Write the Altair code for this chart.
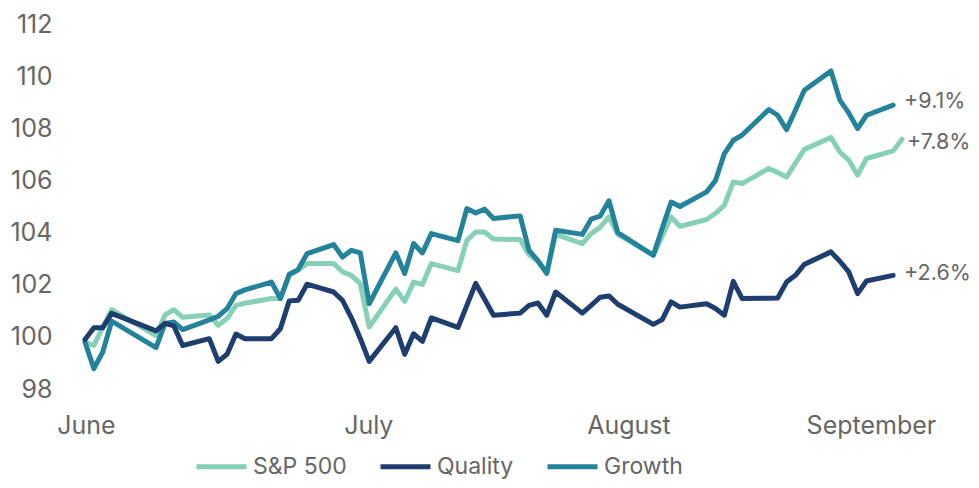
import altair as alt
import pandas as pd

# Day offsets (calendar days from the first observation) of each data point
days = [0, 1, 2, 3, 8, 9, 10, 11, 14, 15, 16, 17, 18, 21, 22, 23, 24, 25,
        28, 29, 30, 31, 32, 35, 36, 37, 38, 39, 42, 43, 44, 45, 46,
        49, 50, 51, 52, 53, 56, 57, 58, 59, 60, 64, 65, 66, 67,
        70, 71, 72, 73, 74, 77, 78, 79, 80, 81, 84, 85, 86, 87, 88, 91, 92]

sp500 = [99.8, 99.67, 100.36, 101.04, 100.05, 100.83, 101.04, 100.75, 100.84, 100.44,
         100.7, 101.21, 101.29, 101.47, 101.47, 102.36, 102.55, 102.81, 102.81, 102.49,
         102.36, 102.04, 100.38, 101.83, 101.36, 102.1, 102.01, 102.81, 102.54, 103.7,
         104.02, 104.02, 103.75, 103.73, 103.15, 102.9, 102.44, 103.93, 103.58, 103.96,
         104.2, 104.6, 103.93, 103.13, 103.86, 104.6, 104.24, 104.5, 104.74, 105.05,
         105.94, 105.88, 106.46, 106.3, 106.13, 106.66, 107.19, 107.65, 107.09, 106.78,
         106.2, 106.84, 107.13, 107.58]

quality = [99.9, 100.35, 100.35, 100.9, 100.23, 100.52, 100.42, 99.67, 99.93, 99.06,
           99.33, 100.11, 99.93, 99.93, 100.31, 101.38, 101.4, 102.02, 101.72, 101.4,
           100.73, 99.94, 99.06, 100.35, 99.33, 100.12, 99.83, 100.73, 100.36, 101.21,
           102.05, 101.44, 100.83, 100.91, 101.21, 101.3, 100.83, 101.72, 100.91, 101.21,
           101.52, 101.57, 101.25, 100.48, 100.66, 101.34, 101.14, 101.27, 101.09, 100.83,
           102.13, 101.47, 101.48, 101.49, 102.1, 102.36, 102.78, 103.26, 102.9, 102.49,
           101.66, 102.14, 102.36]

growth = [99.8, 98.78, 99.42, 100.6, 99.59, 100.51, 100.57, 100.28, 100.65, 100.79,
          101.08, 101.66, 101.8, 102.1, 101.47, 102.4, 102.58, 103.19, 103.54, 103.06,
          103.32, 103.22, 101.27, 103.22, 102.43, 103.58, 103.22, 103.96, 103.69, 104.92,
          104.75, 104.9, 104.54, 104.64, 103.32, 102.92, 102.44, 104.09, 103.93, 104.52,
          104.63, 105.22, 104.0, 103.13, 104.17, 105.17, 105.0, 105.56, 106.0, 107.03,
          107.54, 107.74, 108.72, 108.5, 107.95, 108.69, 109.46, 110.2, 109.08, 108.59,
          107.99, 108.5, 108.89]

series_names = ["S&P 500", "Quality", "Growth"]
series_colors = ["#86d0b6", "#1d3e6e", "#23839a"]
end_labels = ["+7.8%", "+2.6%", "+9.1%"]
month_ticks = [0.1, 31.9, 61.2, 88.5]
month_labels = ["June", "July", "August", "September"]
y_ticks = [98, 100, 102, 104, 106, 108, 110, 112]

FONT = "Inter"
FS = 25
FS_LEGEND = 23
FS_END = 21.5
TEXT_COLOR = "#666666"

rows = []
for name, vals in zip(series_names, [sp500, quality, growth]):
    for d, v in zip(days, vals):
        rows.append({"day": d, "value": v, "series": name})
df = pd.DataFrame(rows)

label_expr = (
    f"datum.value < 10 ? '{month_labels[0]}' : datum.value < 45 ? '{month_labels[1]}' : "
    f"datum.value < 75 ? '{month_labels[2]}' : '{month_labels[3]}'"
)

x_enc = alt.X(
    "day:Q",
    scale=alt.Scale(domain=[0, 92], nice=False, zero=False),
    axis=alt.Axis(values=month_ticks, labelExpr=label_expr, title=None, domain=False,
                  ticks=False, grid=False, labelFlush=False, labelPadding=36,
                  labelBaseline="middle", labelFontSize=FS, labelColor=TEXT_COLOR,
                  labelFont=FONT),
)
y_enc = alt.Y(
    "value:Q",
    scale=alt.Scale(domain=[98, 112], nice=False, zero=False),
    axis=alt.Axis(values=y_ticks, title=None, domain=False, ticks=False, grid=False,
                  labelPadding=33, labelFontSize=FS, labelColor=TEXT_COLOR, labelFont=FONT),
)
color_enc = alt.Color(
    "series:N",
    scale=alt.Scale(domain=series_names, range=series_colors),
    legend=alt.Legend(orient="none", legendX=109, legendY=415, direction="horizontal",
                      title=None, symbolType="stroke", symbolSize=2500, symbolStrokeWidth=5,
                      labelFontSize=FS_LEGEND, labelColor=TEXT_COLOR, labelFont=FONT,
                      columnPadding=23, labelOffset=4, padding=0),
)

base = alt.Chart(df)
layers = []
for name in ["S&P 500", "Growth", "Quality"]:
    layers.append(
        base.transform_filter(alt.datum.series == name)
        .mark_line(strokeWidth=5, strokeCap="round", strokeJoin="round")
        .encode(x=x_enc, y=y_enc, color=color_enc)
    )

offsets = {"S&P 500": (5, 4), "Quality": (11, -1), "Growth": (11, -3)}
for name, vals, lab in zip(series_names, [sp500, quality, growth], end_labels):
    ldf = pd.DataFrame({"day": [days[len(vals) - 1]], "value": [vals[-1]], "label": [lab]})
    dx, dy = offsets[name]
    layers.append(
        alt.Chart(ldf)
        .mark_text(align="left", baseline="middle", dx=dx, dy=dy, fontSize=FS_END,
                   color=TEXT_COLOR, font=FONT)
        .encode(x="day:Q", y="value:Q", text="label:N")
    )

chart = (
    alt.layer(*layers)
    .properties(width=817, height=365, autosize=alt.AutoSizeParams(type="none"),
                padding={"left": 77, "top": 16, "right": 69, "bottom": 91})
    .configure(font=FONT)
    .configure_view(strokeWidth=0, stroke=None)
)

chart.save("out.html", embed_options={"renderer": "svg", "actions": False})
